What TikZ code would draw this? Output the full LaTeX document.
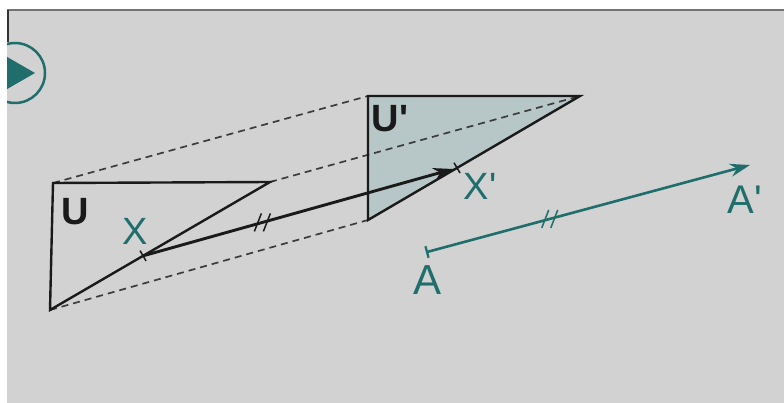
\documentclass[tikz,border=0pt]{standalone}
\usepackage{fontspec}
\setmainfont{Liberation Sans}[Ligatures=TeXOff]
\usetikzlibrary{arrows.meta,calc}
\definecolor{paper}{HTML}{D2D2D2}
\definecolor{tealc}{HTML}{1F6E6C}
\definecolor{ushade}{HTML}{B7C7C7}
\definecolor{ink}{HTML}{1A1A1A}
\tikzset{
  tri/.style={draw=ink, line width=2.4pt, line join=miter},
  proj/.style={draw=ink!85, line width=1.7pt, dash pattern=on 7pt off 5pt},
  vec/.style={draw=ink, line width=2.9pt, -{Stealth[length=20pt,width=13pt]}},
  tvec/.style={draw=tealc, line width=2.6pt, -{Stealth[length=20pt,width=13pt]}},
  tick/.style={line width=1.5pt},
  lbl/.style={text=tealc, font=\fontsize{38}{38}\selectfont, inner sep=0pt},
  ulbl/.style={text=ink, font=\fontsize{38}{38}\selectfont\bfseries, inner sep=0pt}
}
\begin{document}
\begin{tikzpicture}[x=1pt,y=-1pt]
\useasboundingbox (0,0) rectangle (784,403);
\fill[white] (0,0) rectangle (784,403);
\fill[paper] (7,10) rectangle (784,403);
\draw[black!55, line width=1.5pt] (7,10) -- (784,10);
\draw[black!80, line width=2pt] (8,10) -- (8,42);
% play icon
\begin{scope}
  \clip (7,10) rectangle (784,403);
  \draw[tealc, line width=2.5pt] (15,73) circle (30);
  \fill[tealc] (-5,50) -- (35,73) -- (-5,96) -- cycle;
\end{scope}
% points
\coordinate (P1) at (53,183);
\coordinate (P2) at (270,182);
\coordinate (P3) at (50,310);
\coordinate (Q1) at (368,96);
\coordinate (Q2) at (580,96);
\coordinate (Q3) at (368,220);
\coordinate (X) at ($(P2)!0.577!(P3)$);
\coordinate (Xp) at ($(Q2)!0.58!(Q3)$);
\coordinate (A) at (427,252);
\coordinate (Ap) at (750,165);
% shaded image
\fill[ushade] (Q1) -- (Q2) -- (Q3) -- cycle;
% projection lines
\draw[proj] (P1) -- (Q1);
\draw[proj] (P2) -- (Q2);
\draw[proj] (P3) -- (Q3);
% triangles
\draw[tri] (P1) -- (P2) -- (P3) -- cycle;
\draw[tri] (Q1) -- (Q2) -- (Q3) -- cycle;
% point ticks
\draw[tick, ink] ($(X)!6pt!90:(P2)$) -- ($(X)!6pt!-90:(P2)$);
\draw[tick, ink] ($(Xp)!6pt!90:(Q2)$) -- ($(Xp)!6pt!-90:(Q2)$);
% vector X -> X'
\draw[vec, shorten >=4pt] (X) -- (Xp);
\coordinate (M1) at ($(X)!0.38!(Xp)$);
\draw[tick, ink] ($(M1)+(-8,9)$) -- ($(M1)+(-1,-9)$);
\draw[tick, ink] ($(M1)+(1,9)$) -- ($(M1)+(8,-9)$);
% vector A -> A'
\draw[tvec] (A) -- (Ap);
\draw[tick, tealc, line width=2.2pt] ($(A)!6pt!90:(Ap)$) -- ($(A)!6pt!-90:(Ap)$);
\coordinate (M2) at ($(A)!0.38!(Ap)$);
\draw[tick, tealc] ($(M2)+(-8,9)$) -- ($(M2)+(-1,-9)$);
\draw[tick, tealc] ($(M2)+(1,9)$) -- ($(M2)+(8,-9)$);
% labels
\node[ulbl] (lU) at (75,212) {U};
\node[ulbl] (lUp) at (390,119) {U'};
\node[lbl] (lX) at (135,231) {X};
\node[lbl] (lXp) at (480,186) {X'};
\node[lbl, font=\fontsize{42}{42}\selectfont] (lA) at (428,280) {A};
\node[lbl, font=\fontsize{40}{40}\selectfont] (lAp) at (745,200) {A'};
\end{tikzpicture}
\end{document}
